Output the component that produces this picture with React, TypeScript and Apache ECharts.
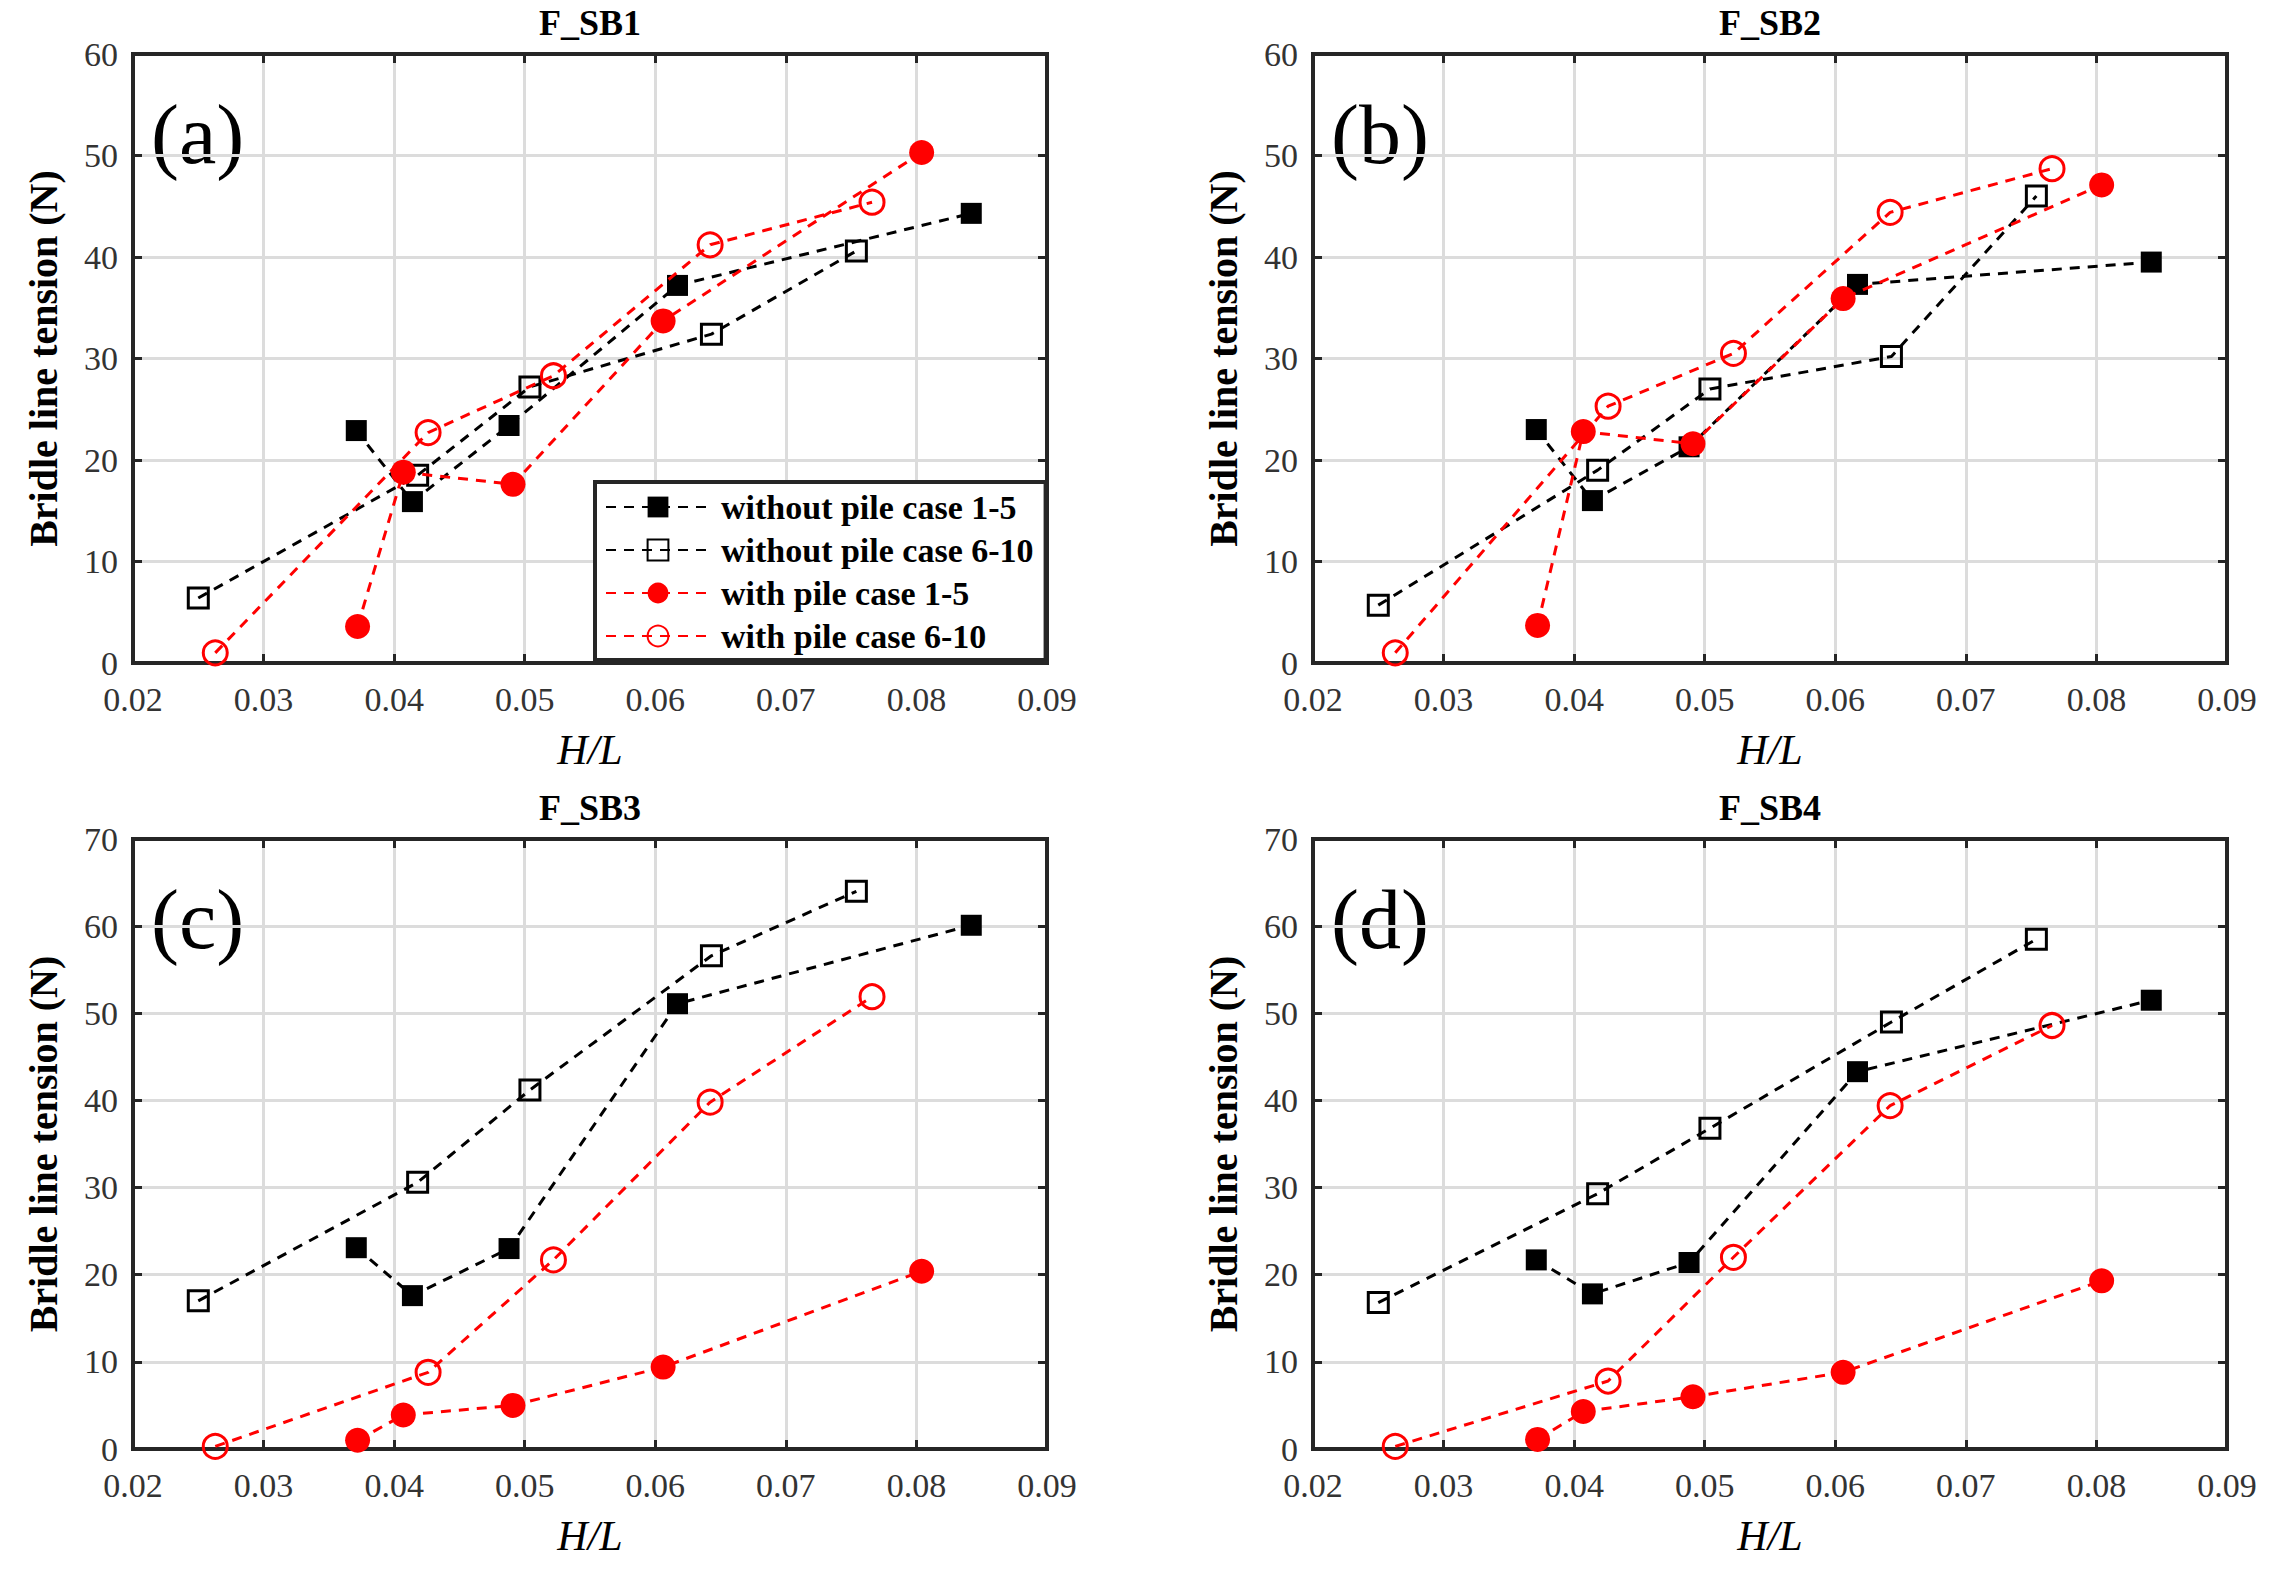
import React, { useEffect, useRef } from "react";
import * as echarts from "echarts";

// H/L of the wave cases (same in all four panels)
const hlWithoutPile1to5 = [0.0371, 0.0414, 0.0488, 0.0617, 0.0842];
const hlWithoutPile6to10 = [0.025, 0.0418, 0.0504, 0.0643, 0.0754];
const hlWithPile1to5 = [0.0372, 0.0407, 0.0491, 0.0606, 0.0804];
const hlWithPile6to10 = [0.0263, 0.0426, 0.0522, 0.0642, 0.0766];

// bridle line tension (N), one array per series and panel
const sb1WithoutPile1to5 = [22.9, 15.9, 23.4, 37.2, 44.3];
const sb1WithoutPile6to10 = [6.4, 18.5, 27.2, 32.4, 40.6];
const sb1WithPile1to5 = [3.6, 18.8, 17.6, 33.7, 50.3];
const sb1WithPile6to10 = [1.0, 22.7, 28.3, 41.2, 45.4];

const sb2WithoutPile1to5 = [23.0, 16.0, 21.3, 37.3, 39.5];
const sb2WithoutPile6to10 = [5.7, 19.0, 27.0, 30.2, 46.0];
const sb2WithPile1to5 = [3.7, 22.8, 21.6, 35.9, 47.1];
const sb2WithPile6to10 = [1.0, 25.3, 30.5, 44.4, 48.7];

const sb3WithoutPile1to5 = [23.1, 17.6, 23.0, 51.1, 60.1];
const sb3WithoutPile6to10 = [17.0, 30.6, 41.2, 56.6, 64.0];
const sb3WithPile1to5 = [1.0, 3.9, 5.0, 9.4, 20.4];
const sb3WithPile6to10 = [0.3, 8.8, 21.7, 39.8, 51.9];

const sb4WithoutPile1to5 = [21.7, 17.8, 21.4, 43.3, 51.5];
const sb4WithoutPile6to10 = [16.8, 29.3, 36.8, 49.0, 58.5];
const sb4WithPile1to5 = [1.1, 4.3, 6.0, 8.8, 19.3];
const sb4WithPile6to10 = [0.3, 7.8, 22.0, 39.4, 48.6];

const seriesNames = [
  "without pile case 1-5",
  "without pile case 6-10",
  "with pile case 1-5",
  "with pile case 6-10",
];
const panelTitles = ["F_SB1", "F_SB2", "F_SB3", "F_SB4"];
const panelLetters = ["(a)", "(b)", "(c)", "(d)"];
const yMaxes = [60, 60, 70, 70];

const xPositions = [hlWithoutPile1to5, hlWithoutPile6to10, hlWithPile1to5, hlWithPile6to10];
const panelValues = [
  [sb1WithoutPile1to5, sb1WithoutPile6to10, sb1WithPile1to5, sb1WithPile6to10],
  [sb2WithoutPile1to5, sb2WithoutPile6to10, sb2WithPile1to5, sb2WithPile6to10],
  [sb3WithoutPile1to5, sb3WithoutPile6to10, sb3WithPile1to5, sb3WithPile6to10],
  [sb4WithoutPile1to5, sb4WithoutPile6to10, sb4WithPile1to5, sb4WithPile6to10],
];

const SERIF = "Liberation Serif";
const FRAME = "#262626";

const markerStyles = [
  { symbol: "rect", size: 21, color: "#000000", filled: true },
  { symbol: "rect", size: 20, color: "#000000", filled: false },
  { symbol: "circle", size: 25, color: "#ff0000", filled: true },
  { symbol: "circle", size: 24, color: "#ff0000", filled: false },
];

const grids = [
  { left: 133, top: 54, width: 914, height: 609 },
  { left: 1313, top: 54, width: 914, height: 609 },
  { left: 133, top: 839, width: 914, height: 610 },
  { left: 1313, top: 839, width: 914, height: 610 },
];

const App: React.FC = () => {
  const chartRef = useRef<HTMLDivElement>(null);

  useEffect(() => {
    document.body.style.margin = "0";
    if (!chartRef.current) return;
    const chart = echarts.init(chartRef.current, null, { renderer: "svg" });

    const xAxes: any[] = [];
    const yAxes: any[] = [];
    const series: any[] = [];
    const graphics: any[] = [];

    grids.forEach((g, i) => {
      const tick = { show: true, inside: true, length: 9, lineStyle: { color: FRAME, width: 3 } };
      const line = { show: true, onZero: false, lineStyle: { color: FRAME, width: 4 } };
      xAxes.push({
        type: "value",
        gridIndex: i,
        position: "bottom",
        min: 0.02,
        max: 0.09,
        interval: 0.01,
        axisLine: line,
        axisTick: tick,
        axisLabel: {
          color: "#333",
          fontFamily: SERIF,
          fontSize: 34,
          margin: 19,
          formatter: (v: number) => v.toFixed(2),
        },
        splitLine: { show: true, lineStyle: { color: "#dcdcdc", width: 3 } },
        name: "H/L",
        nameLocation: "middle",
        nameGap: 66,
        nameTextStyle: { fontFamily: SERIF, fontStyle: "italic", fontSize: 42, color: "#000" },
      });
      xAxes.push({
        type: "value",
        gridIndex: i,
        position: "top",
        min: 0.02,
        max: 0.09,
        interval: 0.01,
        axisLine: line,
        axisTick: tick,
        axisLabel: { show: false },
        splitLine: { show: false },
      });
      yAxes.push({
        type: "value",
        gridIndex: i,
        position: "left",
        min: 0,
        max: yMaxes[i],
        interval: 10,
        axisLine: line,
        axisTick: tick,
        axisLabel: { color: "#333", fontFamily: SERIF, fontSize: 34, margin: 15 },
        splitLine: { show: true, lineStyle: { color: "#dcdcdc", width: 3 } },
        name: "Bridle line tension (N)",
        nameLocation: "middle",
        nameGap: 70,
        nameTextStyle: { fontFamily: SERIF, fontWeight: "bold", fontSize: 40, color: "#000" },
      });
      yAxes.push({
        type: "value",
        gridIndex: i,
        position: "right",
        min: 0,
        max: yMaxes[i],
        interval: 10,
        axisLine: line,
        axisTick: tick,
        axisLabel: { show: false },
        splitLine: { show: false },
      });

      seriesNames.forEach((name, s) => {
        const m = markerStyles[s];
        series.push({
          type: "line",
          name,
          xAxisIndex: i * 2,
          yAxisIndex: i * 2,
          data: xPositions[s].map((x, k) => [x, panelValues[i][s][k]]),
          symbol: m.symbol,
          symbolSize: m.size,
          showSymbol: true,
          clip: false,
          lineStyle: { color: m.color, width: 3, type: [10, 8] },
          itemStyle: m.filled
            ? { color: m.color }
            : { color: "rgba(255,255,255,0)", borderColor: m.color, borderWidth: 3 },
          emphasis: { disabled: true },
          z: 3 + s,
        });
      });

      graphics.push({
        type: "text",
        x: g.left + g.width / 2,
        y: g.top - 31,
        style: {
          text: panelTitles[i],
          font: `bold 36px "${SERIF}"`,
          fill: "#000",
          textAlign: "center",
          textVerticalAlign: "middle",
        },
      });
      graphics.push({
        type: "text",
        x: g.left + 18,
        y: g.top + 80,
        style: {
          text: panelLetters[i],
          font: `84px "${SERIF}"`,
          fill: "#000",
          textAlign: "left",
          textVerticalAlign: "middle",
        },
      });
    });

    chart.setOption({
      animation: false,
      backgroundColor: "#ffffff",
      grid: grids.map((g) => ({ ...g, show: true, borderColor: FRAME, borderWidth: 4, backgroundColor: "#fff" })),
      xAxis: xAxes,
      yAxis: yAxes,
      legend: {
        data: seriesNames,
        orient: "vertical",
        left: 595,
        top: 482,
        padding: [8, 12, 7, 10],
        itemWidth: 104,
        itemHeight: 26,
        itemGap: 9,
        backgroundColor: "#ffffff",
        borderColor: FRAME,
        borderWidth: 4,
        selectedMode: false,
        textStyle: { fontFamily: SERIF, fontWeight: "bold", fontSize: 34, color: "#000", padding: [0, 0, 0, 6] },
      },
      graphic: graphics,
      series,
    });

    return () => {
      chart.dispose();
    };
  }, []);

  return <div ref={chartRef} style={{ width: "2283px", height: "1573px" }} />;
};

export default App;
